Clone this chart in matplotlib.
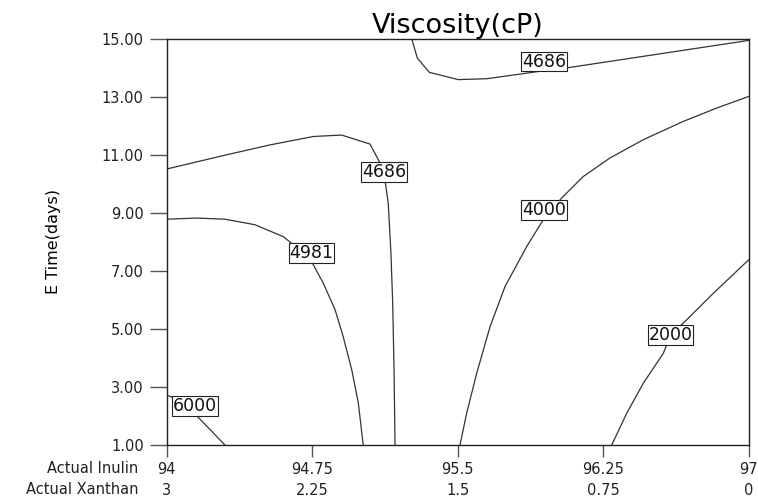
import matplotlib
matplotlib.use("Agg")
import matplotlib.pyplot as plt

plt.rcParams['font.family'] = ['DejaVu Sans']

# --- dati ---
inulin_ticks = [94, 94.75, 95.5, 96.25, 97]
inulin_labels = ["94", "94.75", "95.5", "96.25", "97"]
xanthan_labels = ["3", "2.25", "1.5", "0.75", "0"]
time_ticks = [1, 3, 5, 7, 9, 11, 13, 15]

# curve di livello (Inulin, Time)
c4686_top_x = [95.263, 95.292, 95.354, 95.503, 95.649, 95.821, 95.947, 96.088, 97.0]
c4686_top_y = [15.0, 14.33, 13.84, 13.59, 13.62, 13.78, 13.90, 14.02, 14.94]

c4686_left_x = [94.0, 94.309, 94.532, 94.756, 94.902, 95.048, 95.099, 95.119, 95.125,
                95.142, 95.156, 95.165, 95.172, 95.177]
c4686_left_y = [10.51, 11.0, 11.34, 11.63, 11.68, 11.37, 10.73, 10.41, 10.14,
                9.33, 7.61, 5.89, 3.59, 1.0]

c4981_x = [94.0, 94.155, 94.30, 94.455, 94.601, 94.653, 94.747, 94.807, 94.868,
           94.910, 94.954, 94.988, 95.013]
c4981_y = [8.78, 8.82, 8.78, 8.59, 8.18, 7.90, 7.32, 6.58, 5.66,
           4.73, 3.59, 2.44, 1.0]

c6000_x = [94.0, 94.144, 94.146, 94.30]
c6000_y = [2.72, 2.34, 2.07, 1.0]

c4000_x = [95.512, 95.546, 95.598, 95.667, 95.744, 95.856, 95.941, 96.036, 96.147,
           96.285, 96.457, 96.663, 96.835, 97.0]
c4000_y = [1.0, 2.09, 3.47, 5.08, 6.46, 7.84, 8.76, 9.51, 10.25,
           10.89, 11.52, 12.15, 12.61, 13.01]

c2000_x = [96.294, 96.371, 96.457, 96.560, 96.597, 96.680, 96.818, 97.0]
c2000_y = [1.0, 2.09, 3.13, 4.16, 4.79, 5.31, 6.23, 7.38]

# etichette delle curve
label_text = ["4686", "4686", "4981", "6000", "4000", "2000"]
label_x = [95.947, 95.119, 94.747, 94.144, 95.946, 96.597]
label_y = [14.21, 10.41, 7.61, 2.34, 9.10, 4.80]

# --- figura ---
fig = plt.figure(figsize=(7.58, 4.98), dpi=100)
ax = fig.add_axes([0.2199, 0.1064, 0.7678, 0.8159])

curve = [(c4686_top_x, c4686_top_y), (c4686_left_x, c4686_left_y), (c4981_x, c4981_y),
         (c6000_x, c6000_y), (c4000_x, c4000_y), (c2000_x, c2000_y)]
for cx, cy in curve:
    ax.plot(cx, cy, color='#333333', lw=0.9, solid_joinstyle='round')

for t, lx, ly in zip(label_text, label_x, label_y):
    ax.text(lx, ly, t, ha='center', va='center', fontsize=12.5, color='#111111',
            bbox=dict(boxstyle='square,pad=0.05', fc='white', ec='#222222', lw=0.8),
            zorder=5)

ax.set_xlim(94, 97)
ax.set_ylim(1, 15)

ax.set_yticks(time_ticks)
ax.set_yticklabels([f"{v:.2f}" for v in time_ticks], fontsize=10.5, color='#222222')
ax.set_xticks(inulin_ticks)
ax.set_xticklabels([f"{a}\n{b}" for a, b in zip(inulin_labels, xanthan_labels)],
                   fontsize=10.5, color='#222222')
for lbl in ax.get_xticklabels():
    lbl.set_linespacing(1.45)

ax.tick_params(axis='y', direction='out', length=12, width=1.0, color='#555555', pad=4.5)
ax.tick_params(axis='x', direction='out', length=8.4, width=1.0, color='#555555', pad=4)

for s in ax.spines.values():
    s.set_color('#222222')
    s.set_linewidth(1.0)

ax.set_ylabel("E Time(days)", fontsize=11.5)
ax.yaxis.set_label_coords(-0.182, 0.5)

ax.set_title("Viscosity(cP)", fontsize=19.5, pad=3)

fig.text(138.3 / 758, 1 - 468 / 498, "Actual Inulin", ha='right', va='center',
         fontsize=10.5, color='#222222')
fig.text(138.3 / 758, 1 - 489 / 498, "Actual Xanthan", ha='right', va='center',
         fontsize=10.5, color='#222222')

fig.savefig("out.png", dpi=100)
